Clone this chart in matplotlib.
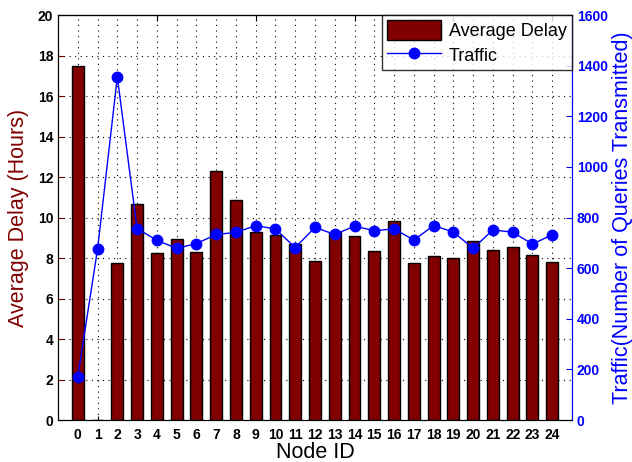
import numpy as np
import matplotlib
matplotlib.use("Agg")
import matplotlib.pyplot as plt

plt.rcParams['font.family'] = ['Liberation Sans', 'DejaVu Sans']

# data
node_ids = list(range(25))
avg_delay = [17.5, 0.0, 7.74, 10.67, 8.23, 8.92, 8.28, 12.28, 10.86, 9.28,
             9.12, 8.71, 7.84, 9.27, 9.09, 8.33, 9.84, 7.75, 8.10, 7.98,
             8.82, 8.40, 8.54, 8.13, 7.80]
traffic = [171, 675, 1355, 756, 710, 678, 697, 733, 741, 768,
           755, 681, 761, 733, 766, 748, 755, 711, 768, 743,
           678, 751, 742, 695, 732]

dark_red = '#800000'
blue = '#0000ff'

fig = plt.figure(figsize=(6.32, 4.62), dpi=100)
ax = fig.add_axes([0.0918, 0.0909, 0.8132, 0.8766])

bars = ax.bar(node_ids, avg_delay, width=0.6, color=dark_red,
              edgecolor='black', linewidth=1.0, label='Average Delay', zorder=3)
ax.set_xlim(-1, 25)
ax.set_ylim(0, 20)
ax.set_yticks(np.arange(0, 21, 2))
ax.set_xticks(node_ids)
ax.tick_params(axis='x', direction='in', length=3, labelsize=10, pad=6)
ax.tick_params(axis='y', direction='in', length=4, colors=dark_red,
               labelcolor='black', labelsize=10)
for lbl in ax.get_xticklabels() + ax.get_yticklabels():
    lbl.set_fontweight('bold')
ax.grid(True, linestyle=(0, (1, 4)), color='black', linewidth=0.8, zorder=0)
ax.set_axisbelow(True)
ax.set_xlabel('Node ID', fontsize=15.5, labelpad=0)
ax.set_ylabel('Average Delay (Hours)', fontsize=15.5, color=dark_red, labelpad=6)

# top ticks from the secondary axes
sec = ax.secondary_xaxis('top')
sec.set_xticks([4, 9, 14, 19, 24])
sec.tick_params(direction='in', length=4, labeltop=False)

ax2 = ax.twinx()
line, = ax2.plot(node_ids, traffic, color=blue, linewidth=1.0, marker='o',
                 markersize=7.5, label='Traffic', zorder=4)
ax2.set_ylim(0, 1600)
ax2.set_yticks(np.arange(0, 1601, 200))
ax2.tick_params(axis='y', direction='in', length=4, colors=blue, labelsize=10)
for lbl in ax2.get_yticklabels():
    lbl.set_fontweight('bold')
ax2.spines['right'].set_color(blue)
ax2.set_ylabel('Traffic(Number of Queries Transmitted)', fontsize=15.5,
               color=blue, labelpad=3)

leg = ax2.legend([bars, line], ['Average Delay', 'Traffic'], loc='upper right',
                 fontsize=13, frameon=True, fancybox=False, edgecolor='black',
                 borderaxespad=0.0, handlelength=3.0, handleheight=1.3,
                 borderpad=0.3, labelspacing=0.25, handletextpad=0.4)
leg.get_frame().set_linewidth(1.0)

fig.savefig('out.png', dpi=100)
